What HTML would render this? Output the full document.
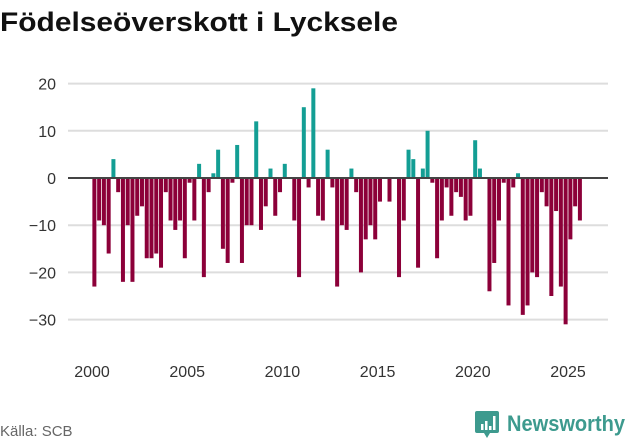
<!DOCTYPE html>
<html><head><meta charset="utf-8">
<style>
body{margin:0;width:631px;height:439px;background:#fff;overflow:hidden;font-family:"Liberation Sans","DejaVu Sans",sans-serif;}
svg{position:absolute;left:0;top:0}
</style></head>
<body>
<svg id="c" width="631" height="439">
<text x="0" y="31" font-size="27" font-weight="bold" fill="#111" textLength="398" lengthAdjust="spacingAndGlyphs">Födelseöverskott i Lycksele</text>
<g id="grid"></g><g id="bars"></g><g id="axes"></g>
<text x="0" y="436" font-size="15" fill="#666">Källa: SCB</text>
<g>
<path d="M477 411 h20 a2 2 0 0 1 2 2 v18 a2 2 0 0 1 -2 2 h-7 l-3 5 l-3 -5 h-7 a2 2 0 0 1 -2 -2 v-18 a2 2 0 0 1 2 -2z" fill="#3d9a8e"/>
<rect x="481" y="424" width="2.5" height="6" fill="#fff"/><rect x="485" y="421" width="2.5" height="9" fill="#fff"/><rect x="489" y="426" width="2.5" height="4" fill="#fff"/><rect x="493" y="416" width="2.5" height="14" fill="#fff"/>
<text x="507" y="431" font-size="22" font-weight="bold" fill="#3d9a8e" textLength="118" lengthAdjust="spacingAndGlyphs">Newsworthy</text>
</g>
</svg>
<script>
const startYear = 2000;
const values = [-23,-9,-10,-16,4,-3,-22,-10,-22,-8,-6,-17,-17,-16,-19,-3,-9,-11,-9,-17,-1,-9,3,-21,-3,1,6,-15,-18,-1,7,-18,-10,-10,12,-11,-6,2,-8,-3,3,0,-9,-21,15,-2,19,-8,-9,6,-2,-23,-10,-11,2,-3,-20,-13,-10,-13,-5,0,-5,0,-21,-9,6,4,-19,2,10,-1,-17,-9,-2,-8,-3,-4,-9,-8,8,2,0,-24,-18,-9,-1,-27,-2,1,-29,-27,-20,-21,-3,-6,-25,-7,-23,-31,-13,-6,-9];
const yTicks = [20,10,0,-10,-20,-30];
const xTicks = [2000,2005,2010,2015,2020,2025];
const NS="http://www.w3.org/2000/svg";
const X=t=>92+(t-2000)*19.04;
const Y=v=>178-v*4.72;
function mk(tag,attrs,parent){const e=document.createElementNS(NS,tag);for(const k in attrs)e.setAttribute(k,attrs[k]);parent.appendChild(e);return e;}
const grid=document.getElementById('grid'),bars=document.getElementById('bars'),axes=document.getElementById('axes');
yTicks.forEach(v=>{
  const l=mk('line',{x1:68,x2:608,y1:Y(v),y2:Y(v),stroke:'#dddddd','stroke-width':2},grid);
  
  
  const t=mk('text',{x:56,y:Y(v)+6,'text-anchor':'end','font-size':16,fill:'#333'},axes);
  t.textContent=String(v).replace('-','\u2212');
  
  
});
xTicks.forEach(yr=>{
  const t=mk('text',{x:X(yr),y:377,'text-anchor':'middle','font-size':16,fill:'#333'},axes);
  t.textContent=yr;
  
  
});
values.forEach((v,i)=>{
  const t=startYear+i/4+0.125;
  const cx=X(t);
  const y0=Y(0),y1=Y(v);
  const r=mk('rect',{x:cx-2,y:Math.min(y0,y1),width:4,height:Math.abs(y1-y0),fill:v>=0?'#139e94':'#8c0039'},bars);
  
  
});
const z=mk('line',{x1:68,x2:608,y1:Y(0),y2:Y(0),stroke:'#444','stroke-width':2},axes);


</script>
</body></html>
